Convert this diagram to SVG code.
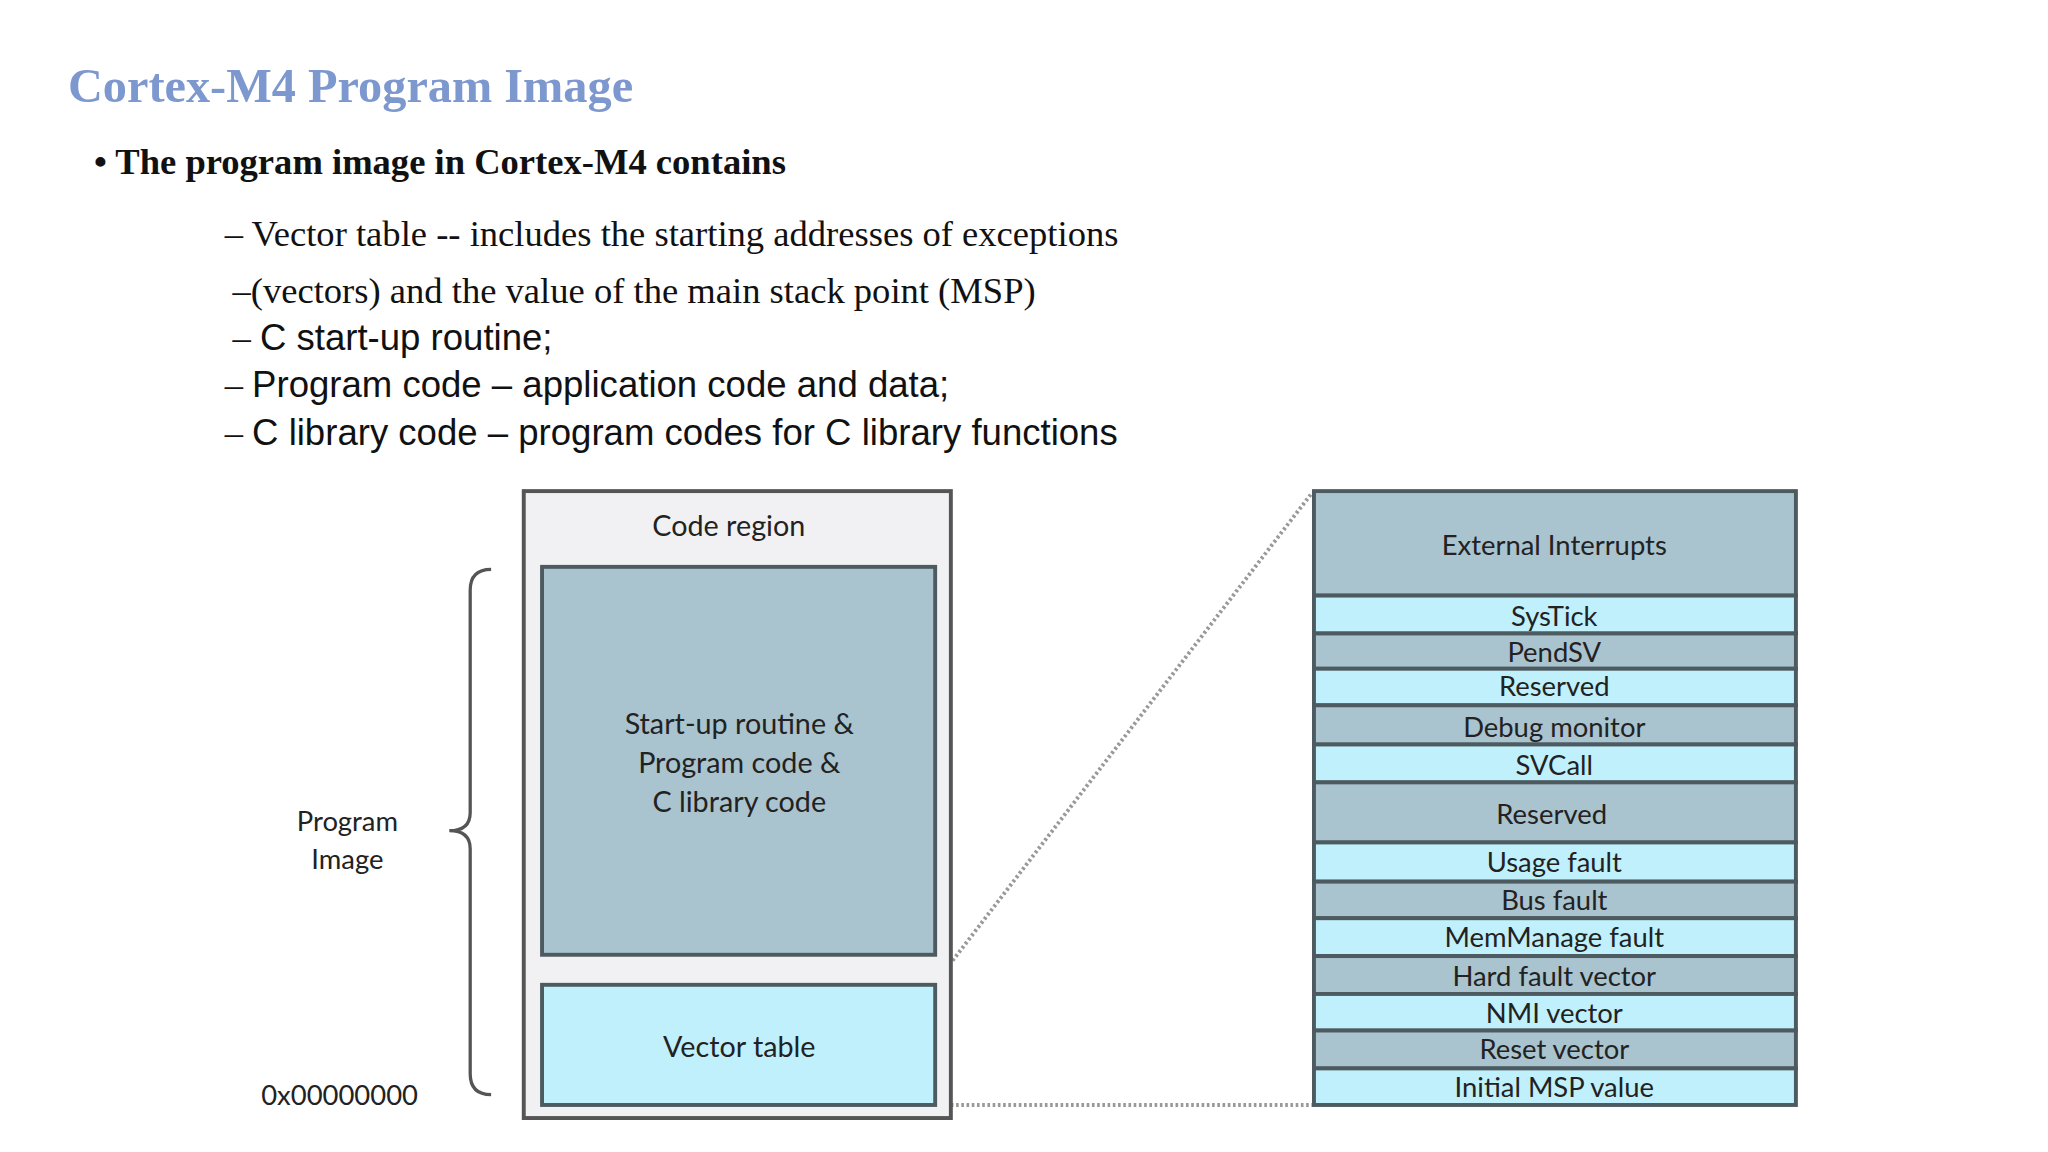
<svg xmlns="http://www.w3.org/2000/svg" width="2048" height="1152" viewBox="0 0 2048 1152">
<style>
.ser{font-family:"Liberation Serif",serif;fill:#111}
.san{font-family:"Liberation Sans",sans-serif;fill:#111}
.g{font-family:Lato,"Open Sans",sans-serif;fill:#222;text-anchor:middle}
.d{fill:#a9c3cf;stroke:#4d5b61;stroke-width:3}
.l{fill:#c0f0fb;stroke:#4d5b61;stroke-width:3}
.dot{stroke:#999;stroke-width:3;stroke-dasharray:2 2;fill:none}
</style>
<rect width="2048" height="1152" fill="#fff"/>
<g transform="scale(1.30612)">
<text x="52" y="78" class="ser" style="fill:#7d97cf;font-weight:bold;font-size:37px">Cortex-M4 Program Image</text>
<text x="72" y="133" class="ser" style="font-weight:bold;font-size:28px">• The program image in Cortex-M4 contains</text>
<text x="172" y="188" class="ser" style="font-size:28px">– Vector table -- includes the starting addresses of exceptions</text>
<text x="178" y="232" class="ser" style="font-size:28px">–(vectors) and the value of the main stack point (MSP)</text>
<text x="178" y="268" class="ser" style="font-size:28px">– <tspan class="san" style="font-size:28px">C start-up routine;</tspan></text>
<text x="172" y="304" class="ser" style="font-size:28px">– <tspan class="san">Program code – application code and data;</tspan></text>
<text x="172" y="341" class="ser" style="font-size:28px">– <tspan class="san">C library code – program codes for C library functions</tspan></text>

<g id="connectors">
<path class="dot" d="M722 745 L1004 378"/>
<path class="dot" d="M728 846 L1006 846"/>
<path d="M376 436 Q360 436 360 452 L360 622 Q360 636 344 636 Q360 636 360 650 L360 822 Q360 838 376 838" fill="none" stroke="#555" stroke-width="2.5"/>
</g>
<g id="codeRegion">
<rect x="401" y="376" width="327" height="480" fill="#f1f1f3" stroke="#555" stroke-width="3"/>
<text x="558" y="410" class="g" style="font-size:22px">Code region</text>
</g>
<g id="startup">
<rect x="415" y="434" width="301" height="297" class="d"/>
<text class="g" style="font-size:22px"><tspan x="566" y="562">Start-up routine &amp;</tspan><tspan x="566" y="592">Program code &amp;</tspan><tspan x="566" y="622">C library code</tspan></text>
</g>
<g id="vectorTable">
<rect x="415" y="754" width="301" height="92" class="l"/>
<text x="566" y="809" class="g" style="font-size:22px">Vector table</text>
</g>
<g id="programImage">
<text class="g" style="font-size:21px"><tspan x="266" y="636">Program</tspan><tspan x="266" y="665">Image</tspan></text>
<text x="260" y="846" class="g" style="font-size:21px">0x00000000</text>
</g>
<g id="vectors" style="font-size:21px">
<rect x="1006" y="376" width="369" height="80" class="d"/><text x="1190" y="425" class="g">External Interrupts</text>
<rect x="1006" y="456" width="369" height="29" class="l"/><text x="1190" y="479" class="g">SysTick</text>
<rect x="1006" y="485" width="369" height="27" class="d"/><text x="1190" y="507" class="g">PendSV</text>
<rect x="1006" y="512" width="369" height="28" class="l"/><text x="1190" y="533" class="g">Reserved</text>
<rect x="1006" y="540" width="369" height="30" class="d"/><text x="1190" y="564" class="g">Debug monitor</text>
<rect x="1006" y="570" width="369" height="29" class="l"/><text x="1190" y="593" class="g">SVCall</text>
<rect x="1006" y="599" width="369" height="46" class="d"/><text x="1188" y="631" class="g">Reserved</text>
<rect x="1006" y="645" width="369" height="30" class="l"/><text x="1190" y="668" class="g">Usage fault</text>
<rect x="1006" y="675" width="369" height="28" class="d"/><text x="1190" y="697" class="g">Bus fault</text>
<rect x="1006" y="703" width="369" height="29" class="l"/><text x="1190" y="725" class="g">MemManage fault</text>
<rect x="1006" y="732" width="369" height="29" class="d"/><text x="1190" y="755" class="g">Hard fault vector</text>
<rect x="1006" y="761" width="369" height="28" class="l"/><text x="1190" y="783" class="g">NMI vector</text>
<rect x="1006" y="789" width="369" height="29" class="d"/><text x="1190" y="811" class="g">Reset vector</text>
<rect x="1006" y="818" width="369" height="28" class="l"/><text x="1190" y="840" class="g">Initial MSP value</text>
</g>
</g>
</svg>
